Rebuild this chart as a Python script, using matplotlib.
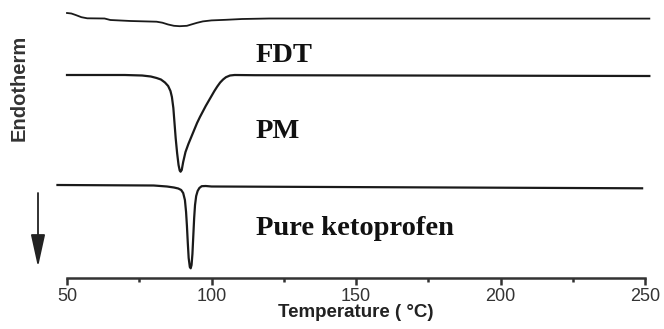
import matplotlib.pyplot as plt
from matplotlib.ticker import MultipleLocator

# DSC curves (temperature in C, heat flow in arbitrary offset units, endotherm down)
T_FDT = [50, 51.5, 53, 55, 57, 63, 65, 72, 81, 83, 85, 87, 89, 91.5, 93, 95, 97,
         100, 105, 110.6, 120, 251.5]
HF_FDT = [265, 264.5, 263, 260.8, 259.7, 259.5, 258, 257, 256.3, 255.3, 253.5, 252.2,
          251.8, 252.2, 253.5, 255.2, 256.6, 257.6, 258.2, 259, 259.5, 259.4]

T_PM = [50, 70, 76, 79, 81, 82.5, 83.9, 85, 85.8, 86.3, 86.8, 87.2, 87.6, 88.1, 88.6,
        89.0, 89.3, 89.7, 90.2, 91, 92, 93, 94, 95, 96, 97, 98, 99, 100, 101, 102,
        103, 104, 105, 106.4, 108, 115, 251.5]
HF_PM = [203, 203, 202.5, 201.5, 200, 198.5, 195.5, 192, 187, 181, 170, 155, 140, 125, 113,
         107.5, 106.3, 108, 116, 126, 134, 141, 148, 155, 161, 166.5, 172, 177, 182, 187, 191.5,
         195.5, 198.5, 200.8, 202.5, 203, 202.8, 202]

T_KETO = [46.7, 80, 84.6, 87, 88.5, 89.5, 90.2, 90.8, 91.2, 91.5, 91.8, 92.1, 92.5, 92.8,
          93.1, 93.4, 93.7, 94.0, 94.3, 94.7, 95.2, 95.8, 96.6, 98, 100, 249]
HF_KETO = [93, 92.5, 91.5, 90.5, 89.5, 88, 85, 78, 66, 52, 35, 20, 11, 9.7,
           13, 24, 42, 60, 73, 82, 87, 90, 91.8, 92, 91.5, 89.7]

LABELS = ['FDT', 'PM', 'Pure ketoprofen']
LABEL_Y = [216.3, 139.7, 43]

fig = plt.figure(figsize=(6.64, 3.29), dpi=100)
ax = fig.add_axes([67 / 664, 1 - 278 / 329, 578 / 664, 278 / 329])

for T, HF, lw in [(T_FDT, HF_FDT, 1.3), (T_PM, HF_PM, 1.6), (T_KETO, HF_KETO, 1.6)]:
    ax.plot(T, HF, color='#1a1a1a', lw=lw, clip_on=False, solid_joinstyle='round')

for lab, y in zip(LABELS, LABEL_Y):
    ax.text(115.3, y, lab, fontsize=20.5, fontweight='bold', family='Liberation Serif',
            ha='left', va='baseline', color='#111111')

ax.set_xlim(50, 250)
ax.set_ylim(0, 278)
for s in ['top', 'right', 'left']:
    ax.spines[s].set_visible(False)
ax.spines['bottom'].set_linewidth(1.8)
ax.spines['bottom'].set_color('#333333')
ax.set_yticks([])
ax.xaxis.set_major_locator(MultipleLocator(50))
ax.xaxis.set_minor_locator(MultipleLocator(25))
ax.tick_params(axis='x', which='major', length=5, width=1.8, color='#333333',
               labelsize=13, labelcolor='#333333', pad=2.5)
ax.tick_params(axis='x', which='minor', length=3, width=1.8, color='#333333')
for t in ax.get_xticklabels():
    t.set_family('Liberation Sans')
ax.set_xlabel('Temperature ( °C)', fontsize=13.5, fontweight='bold',
              family='Liberation Sans', color='#222222', labelpad=-1)

fig.text(19 / 664, 1 - 87.5 / 329, 'Endotherm', rotation=90, fontsize=14.5,
         fontweight='bold', family='Liberation Sans', color='#333333',
         ha='center', va='center')
fig.add_artist(plt.Annotation('', xy=(38 / 664, 1 - 267 / 329), xytext=(38 / 664, 1 - 193 / 329),
                              xycoords='figure fraction', textcoords='figure fraction',
                              arrowprops=dict(arrowstyle='-|>,head_length=1.0,head_width=0.22',
                                              mutation_scale=20, color='#222222', lw=1.3,
                                              shrinkA=0, shrinkB=0)))

fig.savefig('out.png', dpi=100)
